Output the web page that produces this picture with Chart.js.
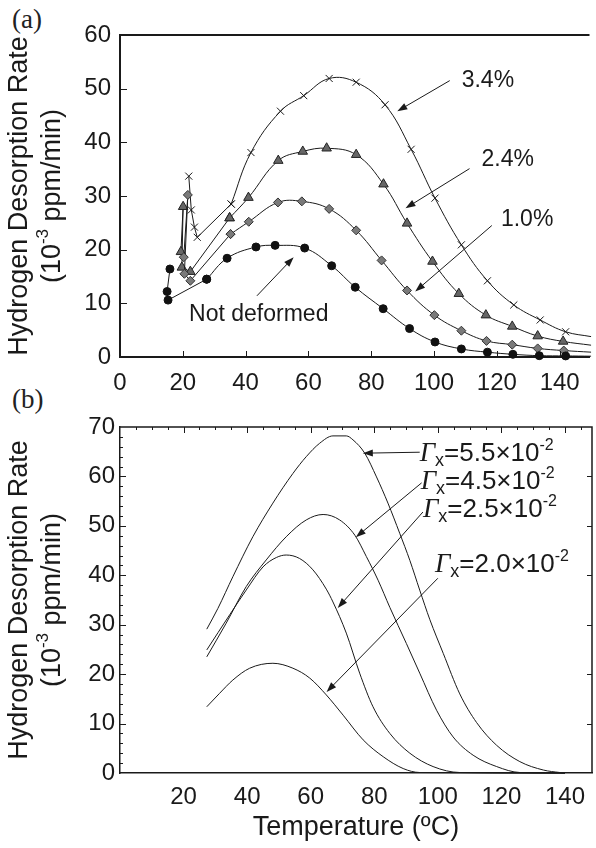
<!DOCTYPE html>
<html>
<head>
<meta charset="utf-8">
<script src="https://cdn.jsdelivr.net/npm/chart.js@4.4.1/dist/chart.umd.min.js"></script>
<style>
  html, body { margin: 0; padding: 0; background: #fff; }
  body { width: 596px; height: 848px; position: relative; overflow: hidden; }
  canvas { position: absolute; left: 0; }
  .panel { position: absolute; left: 12px; font: 27px 'Liberation Serif', serif; color: #222; line-height: 30px; }
</style>
</head>
<body>
<div class="panel" style="top:4px">(a)</div>
<div class="panel" style="top:384px">(b)</div>
<canvas id="chartA" width="596" height="400" style="top:0"></canvas>
<canvas id="chartB" width="596" height="460" style="top:388px"></canvas>
<script>
// ---- (a) measured desorption rates, temperature in ºC, rate in 1e-3 ppm/min ----
const notDefTemp = [15.9, 15.0, 15.3, 27.6, 34.1, 43.3, 49.4, 58.8, 67.4, 74.9, 83.8, 92.2, 100.3, 108.7, 117.0, 125.1, 133.5, 141.9, 150]
const notDefRate = [16.4, 12.2, 10.6, 14.5, 18.4, 20.5, 20.8, 20.3, 17.0, 13.0, 9.0, 5.3, 2.8, 1.5, 0.9, 0.5, 0.25, 0.2, 0.15]
const def10Temp = [20.3, 21.6, 20.5, 22.4, 35.2, 41.0, 50.3, 57.9, 66.6, 75.2, 83.3, 91.4, 100.1, 108.7, 116.7, 124.9, 133.0, 141.3, 150]
const def10Rate = [18.6, 30.2, 15.5, 14.2, 22.9, 25.2, 28.8, 29.0, 27.6, 23.6, 18.0, 12.4, 7.8, 4.9, 3.0, 2.3, 1.6, 1.2, 0.9]
const def24Temp = [19.4, 20.1, 19.7, 22.4, 34.9, 40.9, 50.4, 58.2, 65.8, 75.2, 83.9, 91.4, 99.5, 107.9, 116.5, 124.9, 133.0, 141.1, 150]
const def24Rate = [19.6, 28.0, 16.7, 15.9, 25.9, 29.7, 36.6, 38.3, 38.9, 37.7, 32.2, 24.9, 17.8, 11.8, 7.8, 5.7, 3.9, 2.9, 2.2]
const def34Temp = [21.9, 22.7, 23.7, 24.6, 35.4, 41.7, 51.1, 58.5, 66.6, 75.2, 84.4, 92.7, 100.3, 108.7, 117.0, 125.4, 133.8, 141.9, 150]
const def34Rate = [33.7, 27.4, 24.2, 22.3, 28.5, 38.1, 45.8, 48.7, 51.9, 51.2, 47.0, 38.7, 29.6, 20.9, 14.2, 9.7, 6.9, 4.7, 3.8]

// ---- (b) simulated curves for each trap density ----
const g20Temp = [27.3, 31.3, 35.5, 40.8, 48.1, 54.4, 59.7, 64.9, 70.2, 76.5, 82.8, 89.1, 94.3, 140]
const g20Rate = [13.4, 16.1, 18.8, 21.2, 22.2, 21.2, 19.2, 15.8, 11.7, 6.7, 3.3, 0.9, 0.1, 0]
const g25Temp = [27.3, 34.5, 39.7, 45.0, 49.2, 52.3, 56.5, 60.7, 64.9, 67.0, 71.2, 75.4, 79.6, 84.9, 91.2, 98.5, 106.9, 140]
const g25Rate = [24.9, 32.0, 37.0, 41.7, 43.6, 44.1, 43.4, 41.1, 37.2, 34.6, 28.3, 20.2, 13.4, 8.0, 4.0, 1.3, 0.1, 0]
const g45Temp = [27.3, 33.4, 39.7, 46.0, 52.3, 58.6, 63.9, 69.1, 73.9, 77.5, 81.2, 84.9, 90.1, 94.3, 99.6, 104.8, 111.1, 118.5, 125.8, 140]
const g45Rate = [23.5, 30.3, 37.7, 43.1, 47.8, 51.2, 52.3, 51.2, 48.1, 43.8, 39.0, 33.5, 26.2, 20.2, 12.7, 7.3, 3.6, 1.3, 0.1, 0]
const g55Temp = [27.3, 30.8, 35.5, 41.8, 48.1, 54.4, 58.6, 62.8, 67.0, 71.2, 73.3, 77.0, 80.7, 84.3, 88.0, 91.2, 94.3, 97.5, 101.7, 106.9, 112.2, 118.5, 125.8, 133.2, 138.4, 140]
const g55Rate = [29.1, 33.3, 39.7, 47.8, 54.6, 60.6, 64.0, 66.7, 68.2, 68.2, 67.4, 64.7, 59.9, 54.6, 48.5, 43.0, 37.0, 31.0, 24.2, 16.0, 10.2, 5.6, 2.3, 0.6, 0.1, 0]

const INK = '#1a1a1a'
const SANS = "'Liberation Sans', Arial, sans-serif"
const SERIF = "'Liberation Serif', 'Times New Roman', serif"

function fontOf (p) {
  return `${p.style || 'normal'} ${p.size || 23}px ${p.family || SANS}`
}

// draws a run of text pieces, each with its own size / baseline shift
function drawRich (ctx, x, y, parts, align) {
  let total = 0
  parts.forEach(p => { ctx.font = fontOf(p); total += ctx.measureText(p.text).width })
  let cx = align === 'center' ? x - total / 2 : x
  parts.forEach(p => {
    ctx.font = fontOf(p)
    ctx.fillText(p.text, cx, y - (p.raise || 0))
    cx += ctx.measureText(p.text).width
  })
}

function drawArrow (ctx, x1, y1, x2, y2) {
  const ang = Math.atan2(y2 - y1, x2 - x1)
  const c = Math.cos(ang)
  const s = Math.sin(ang)
  const len = 10
  const half = 3.5
  ctx.beginPath()
  ctx.moveTo(x1, y1)
  ctx.lineTo(x2 - c * len * 0.7, y2 - s * len * 0.7)
  ctx.stroke()
  ctx.beginPath()
  ctx.moveTo(x2, y2)
  ctx.lineTo(x2 - c * len + s * half, y2 - s * len - c * half)
  ctx.lineTo(x2 - c * len - s * half, y2 - s * len + c * half)
  ctx.closePath()
  ctx.fill()
}

function tickMarks (ctx, chart, t) {
  const { chartArea: a, scales } = chart
  const horiz = t.side === 'top' || t.side === 'bottom'
  const scale = horiz ? scales.x : scales.y
  ctx.beginPath()
  for (let v = t.from; v <= t.to + 1e-6; v += t.step) {
    const major = t.majorEvery ? Math.abs(v / t.majorEvery - Math.round(v / t.majorEvery)) < 1e-6 : true
    const len = major ? t.major : t.minor
    const p = Math.round(scale.getPixelForValue(v)) + 0.5
    if (t.side === 'bottom') { ctx.moveTo(p, a.bottom); ctx.lineTo(p, a.bottom - len) }
    if (t.side === 'top') { ctx.moveTo(p, a.top); ctx.lineTo(p, a.top + len) }
    if (t.side === 'left') { ctx.moveTo(a.left, p); ctx.lineTo(a.left + len, p) }
    if (t.side === 'right') { ctx.moveTo(a.right, p); ctx.lineTo(a.right - len, p) }
  }
  ctx.stroke()
}

function yTitle (ctx, chart) {
  const a = chart.chartArea
  ctx.save()
  ctx.translate(0, (a.top + a.bottom) / 2)
  ctx.rotate(-Math.PI / 2)
  ctx.textBaseline = 'middle'
  drawRich(ctx, 0, 20, [{ text: 'Hydrogen Desorption Rate', size: 27 }], 'center')
  drawRich(ctx, 0, 53, [
    { text: '(10', size: 27 },
    { text: '-3', size: 17, raise: 10 },
    { text: ' ppm/min)', size: 27 }
  ], 'center')
  ctx.restore()
}

// frame lines, inward ticks, axis title and the arrow notes
const frameNotes = {
  id: 'frameNotes',
  afterDraw (chart, args, opts) {
    const { ctx, chartArea: a, scales: { x, y } } = chart
    ctx.save()
    ctx.strokeStyle = INK
    ctx.fillStyle = INK
    ctx.lineWidth = opts.frameWidth
    ctx.beginPath()
    ctx.moveTo(a.left, a.top)
    ctx.lineTo(a.right, a.top)
    if (opts.rightEdge) ctx.lineTo(a.right, a.bottom)
    ctx.stroke()

    ctx.lineWidth = 1
    opts.ticks.forEach(t => tickMarks(ctx, chart, t))
    yTitle(ctx, chart)

    ctx.textBaseline = 'alphabetic'
    opts.notes.forEach(n => {
      drawRich(ctx, x.getPixelForValue(n.at[0]), y.getPixelForValue(n.at[1]), n.parts, 'left')
      drawArrow(ctx, x.getPixelForValue(n.from[0]), y.getPixelForValue(n.from[1]),
        x.getPixelForValue(n.to[0]), y.getPixelForValue(n.to[1]))
    })
    ctx.restore()
  }
}

// the step at the start of each measured run is drawn straight, the rest smoothed
function seriesA (temps, rates, split, style) {
  const pts = temps.map((t, i) => ({ x: t, y: rates[i] }))
  const lastMain = pts.length - 1 - split
  const base = { showLine: true, borderColor: INK, borderWidth: 1, clip: false, ...style }
  return [
    { ...base, data: pts.slice(0, split + 1), tension: 0 },
    { ...base, data: pts.slice(split), tension: 0.4, pointRadius: c => (c.dataIndex === lastMain ? 0 : style.pointRadius) }
  ]
}

function seriesB (temps, rates) {
  return {
    showLine: true,
    data: temps.map((t, i) => ({ x: t, y: rates[i] })),
    borderColor: INK,
    borderWidth: 1,
    pointRadius: 0,
    cubicInterpolationMode: 'monotone',
    clip: 2
  }
}

function gammaLabel (value) {
  return [
    { text: 'Γ', size: 27, style: 'italic', family: SERIF },
    { text: 'x', size: 18, raise: -5 },
    { text: '=' + value + '×10', size: 26 },
    { text: '-2', size: 16, raise: 11 }
  ]
}

function axisFont () {
  return { family: SANS, size: 24 }
}

const datasetsA = [
  ...seriesA(notDefTemp, notDefRate, 3, { pointStyle: 'circle', pointRadius: 4, pointBackgroundColor: '#111', pointBorderColor: '#111', pointBorderWidth: 1 }),
  ...seriesA(def10Temp, def10Rate, 4, { pointStyle: 'rectRot', pointRadius: 4.5, pointBackgroundColor: '#7a7a7a', pointBorderColor: '#333', pointBorderWidth: 1 }),
  ...seriesA(def24Temp, def24Rate, 4, { pointStyle: 'triangle', pointRadius: 5.5, pointBackgroundColor: '#666', pointBorderColor: '#222', pointBorderWidth: 1 }),
  ...seriesA(def34Temp, def34Rate, 4, { pointStyle: 'crossRot', pointRadius: 5, pointBackgroundColor: INK, pointBorderColor: INK, pointBorderWidth: 1 })
]

new Chart(document.getElementById('chartA'), {
  type: 'scatter',
  data: { datasets: datasetsA },
  options: {
    responsive: false,
    animation: false,
    devicePixelRatio: 1,
    layout: { padding: { top: 35, right: 0, left: 0, bottom: 0 } },
    plugins: {
      legend: { display: false },
      tooltip: { enabled: false },
      frameNotes: {
        frameWidth: 2,
        rightEdge: false,
        ticks: [
          { side: 'bottom', from: 20, to: 140, step: 20, major: 6 },
          { side: 'left', from: 10, to: 50, step: 10, major: 7 }
        ],
        notes: [
          { parts: [{ text: '3.4%' }], at: [108.8, 50.4], from: [105.0, 51.5], to: [88.3, 45.8] },
          { parts: [{ text: '2.4%' }], at: [115.1, 35.5], from: [111.3, 35.1], to: [90.9, 27.7] },
          { parts: [{ text: '1.0%' }], at: [121.3, 24.5], from: [118.4, 24.5], to: [94.0, 12.2] },
          { parts: [{ text: 'Not deformed' }], at: [22.0, 6.8], from: [43.6, 11.4], to: [55.3, 18.6] }
        ]
      }
    },
    scales: {
      x: {
        type: 'linear',
        min: 0,
        max: 149.5,
        grid: { display: false, drawTicks: false },
        border: { display: true, color: INK, width: 2 },
        ticks: { stepSize: 20, includeBounds: false, padding: 12, color: INK, font: axisFont() },
        afterFit: s => { s.height = 43 }
      },
      y: {
        min: 0,
        max: 60,
        grid: { display: false, drawTicks: false },
        border: { display: true, color: INK, width: 2 },
        ticks: { stepSize: 10, padding: 9, color: INK, font: axisFont() },
        afterFit: s => { s.width = 120 }
      }
    }
  },
  plugins: [frameNotes]
})

new Chart(document.getElementById('chartB'), {
  type: 'scatter',
  data: {
    datasets: [
      seriesB(g20Temp, g20Rate),
      seriesB(g25Temp, g25Rate),
      seriesB(g45Temp, g45Rate),
      seriesB(g55Temp, g55Rate)
    ]
  },
  options: {
    responsive: false,
    animation: false,
    devicePixelRatio: 1,
    layout: { padding: { top: 39, right: 4, left: 0, bottom: 0 } },
    plugins: {
      legend: { display: false },
      tooltip: { enabled: false },
      frameNotes: {
        frameWidth: 1.5,
        rightEdge: true,
        ticks: [
          { side: 'top', from: 5, to: 145, step: 5, majorEvery: 20, major: 6, minor: 3 },
          { side: 'left', from: 2, to: 68, step: 2, majorEvery: 10, major: 6, minor: 3 },
          { side: 'right', from: 10, to: 60, step: 10, major: 5 }
        ],
        notes: [
          { parts: gammaLabel('5.5'), at: [94.3, 63.1], from: [94.3, 64.9], to: [76.4, 64.7] },
          { parts: gammaLabel('4.5'), at: [94.6, 57.5], from: [94.9, 58.7], to: [74.2, 47.7] },
          { parts: gammaLabel('2.5'), at: [95.3, 51.8], from: [95.3, 52.8], to: [68.5, 33.4] },
          { parts: gammaLabel('2.0'), at: [99.1, 40.7], from: [100.0, 39.4], to: [65.0, 16.4] }
        ]
      }
    },
    scales: {
      x: {
        type: 'linear',
        min: 0,
        max: 148.5,
        grid: { display: false, drawTicks: false },
        border: { display: true, color: INK, width: 1.5 },
        ticks: {
          stepSize: 20,
          includeBounds: false,
          padding: 10,
          color: INK,
          font: axisFont(),
          callback: v => (v === 0 ? '' : v)
        },
        title: { display: true, text: 'Temperature (ºC)', color: INK, font: { family: SANS, size: 27 }, padding: { top: 1 } },
        afterFit: s => { s.height = 75 }
      },
      y: {
        min: 0,
        max: 70,
        grid: { display: false, drawTicks: false },
        border: { display: true, color: INK, width: 1.5 },
        ticks: { stepSize: 10, padding: 5, color: INK, font: axisFont() },
        afterFit: s => { s.width = 120 }
      }
    }
  },
  plugins: [frameNotes]
})
</script>
</body>
</html>
